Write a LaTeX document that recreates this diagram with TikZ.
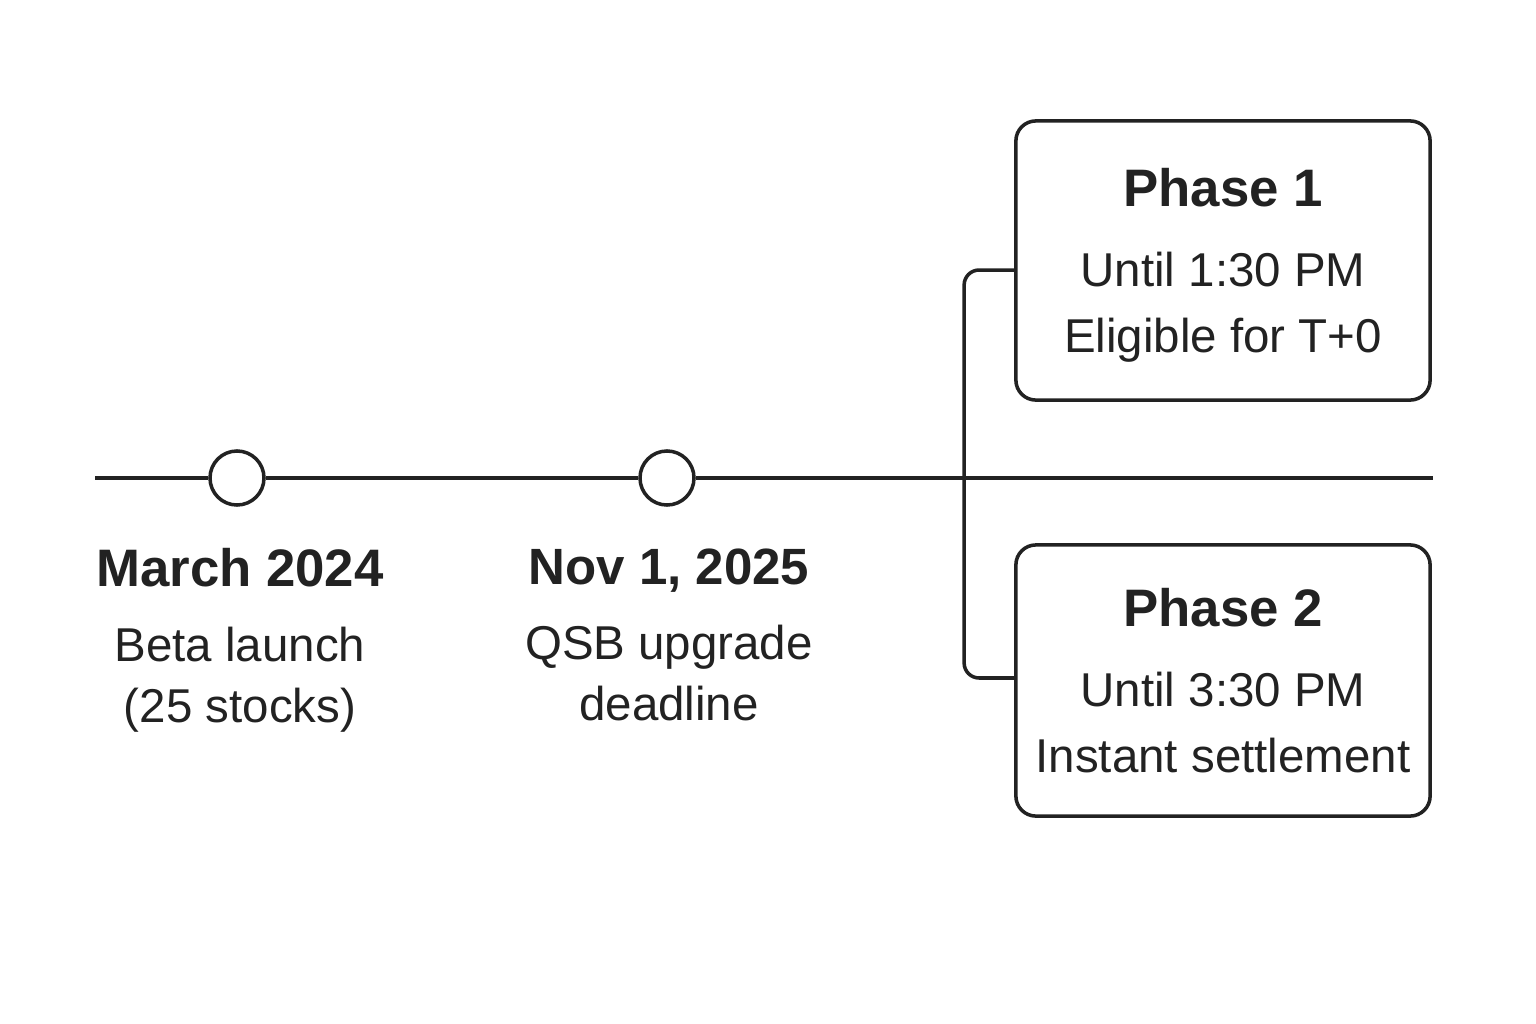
\documentclass[tikz,border=0pt]{standalone}
\usepackage{fontspec}
\setmainfont{Liberation Sans}
\usetikzlibrary{positioning,calc}
\definecolor{ink}{HTML}{222222}

\begin{document}
\begin{tikzpicture}[x=0.01cm,y=-0.01cm,
    timeline/.style={draw=ink,line width=1pt},
    milestone/.style={circle,draw=ink,line width=1pt,fill=white,minimum size=0.54cm,inner sep=0pt},
    datelabel/.style={anchor=north,align=center,inner sep=0pt,text=ink,font=\fontsize{13.5}{17.3}\selectfont},
    phasebox/.style={draw=ink,line width=1pt,rounded corners=0.2cm,minimum width=4.14cm,align=center,inner sep=0pt,text depth=0pt,text=ink,font=\fontsize{13.5}{18.8}\selectfont},
    bracket/.style={draw=ink,line width=1pt,rounded corners=0.15cm}]
\fill[white] (0,0) rectangle (1536,1024);
\useasboundingbox (0,0) rectangle (1536,1024);

% timeline and milestones
\coordinate (tlstart) at (95,478);
\coordinate (tlend) at (1433,478);
\node[milestone] (beta) at (237,478) {};
\node[milestone] (qsb) at (667,478) {};
\draw[timeline] (tlstart) -- (beta) -- (qsb) -- (tlend);

\node[datelabel] (betalabel) at (240,548) {{\bfseries\fontsize{15}{17.3}\selectfont March 2024}\\[4pt]Beta launch\\(25 stocks)};
\node[datelabel] (qsblabel) at (669,548) {{\bfseries\fontsize{14.5}{17.3}\selectfont Nov 1, 2025}\\[4pt]QSB upgrade\\deadline};

% phases
\node[phasebox,minimum height=2.79cm] (phase1) at (1223,260.5) {{\bfseries\fontsize{15}{18.8}\selectfont Phase 1}\\[4pt]Until 1:30 PM\\Eligible for T+0};
\node[phasebox,minimum height=2.71cm] (phase2) at (1223,680.5) {{\bfseries\fontsize{15}{18.8}\selectfont Phase 2}\\[4pt]Until 3:30 PM\\Instant settlement};

\draw[bracket] ([yshift=-0.095cm]phase1.west) -- ++(-50,0) |- ([yshift=0.025cm]phase2.west);
\end{tikzpicture}
\end{document}
